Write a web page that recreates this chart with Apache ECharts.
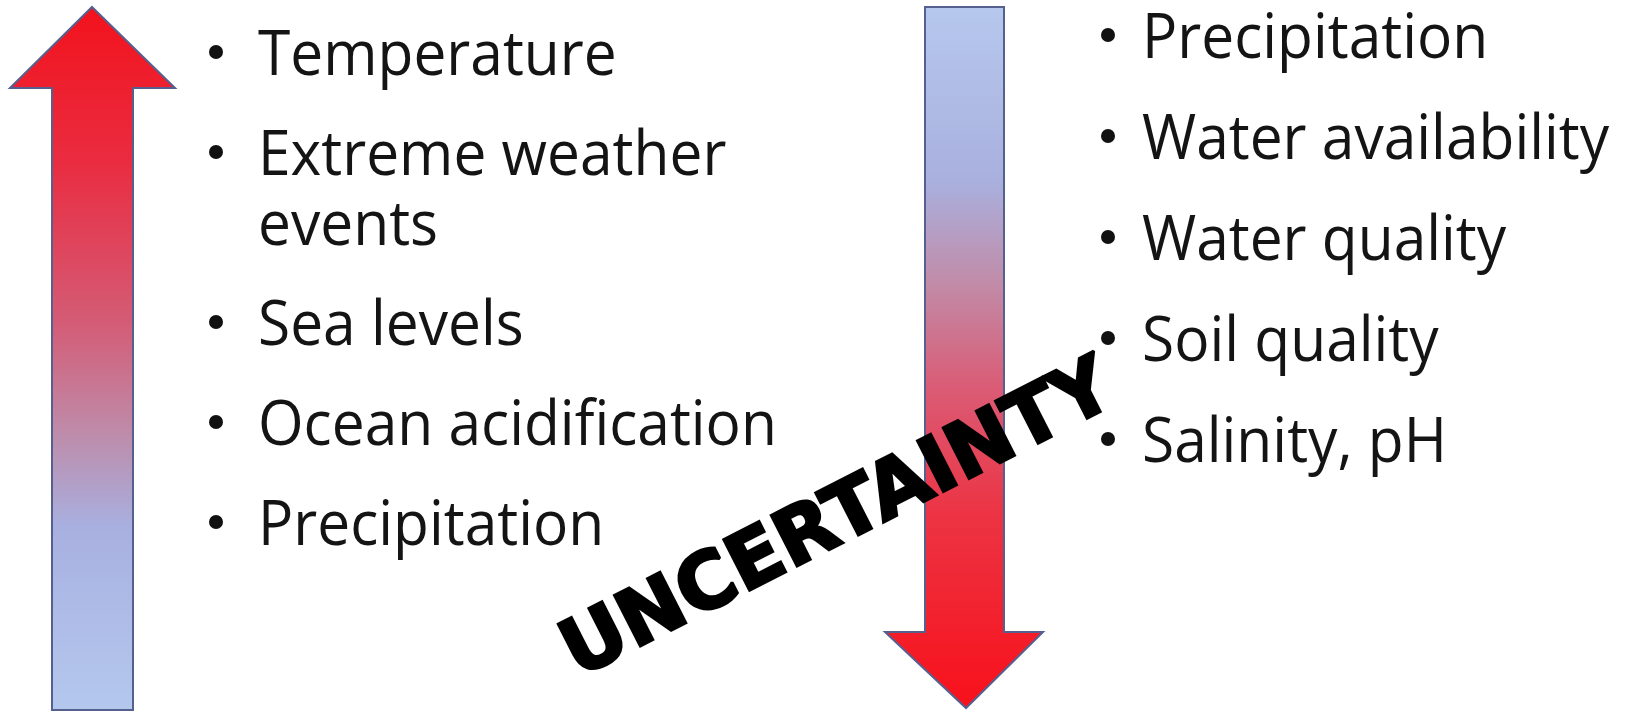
<!DOCTYPE html>
<html><head><meta charset="utf-8">
<script src="https://cdn.jsdelivr.net/npm/echarts@6/dist/echarts.min.js"></script>
<style>html,body{margin:0;padding:0;background:#fff}#c{width:1630px;height:712px}</style>
</head><body><div id="c"></div>
<script>
// ---- content ----
const leftItems = ['Temperature', 'Extreme weather\nevents', 'Sea levels', 'Ocean acidification', 'Precipitation'];
const rightItems = ['Precipitation', 'Water availability', 'Water quality', 'Soil quality', 'Salinity, pH'];
const stampText = 'UNCERTAINTY';

// ---- layout / style ----
const BODY_FONT = '"Open Sans"';
const STAMP_FONT = '"DejaVu Sans"';
const cv = document.createElement('canvas').getContext('2d');
function measure(font, text, baseline) {
  cv.font = font; cv.textBaseline = baseline || 'alphabetic';
  return cv.measureText(text);
}
// fit font size so that widths match the reference
const targets = [['Temperature', 347], ['Water availability', 478], ['Ocean acidification', 524]];
let ratio = 0;
targets.forEach(([t, w]) => { ratio += w / measure('100px ' + BODY_FONT, t).width; });
const bodySize = 100 * ratio / targets.length;
const bodyFont = bodySize + 'px ' + BODY_FONT;
const capH = measure(bodyFont, 'H').actualBoundingBoxAscent;
const capMid = measure(bodyFont, 'H', 'middle').actualBoundingBoxAscent;
const midOffset = capH - capMid; // baseline below 'middle' line
const scaleY = 44 / capH;

const elements = [];

function arrow(points, stops) {
  elements.push({
    type: 'polygon',
    shape: { points: points },
    style: {
      fill: { type: 'linear', x: 0, y: 0, x2: 0, y2: 1, colorStops: stops },
      stroke: '#56608f', lineWidth: 2, lineJoin: 'miter'
    }
  });
}
// left arrow (up)
arrow([[92, 7], [175, 88], [133, 88], [133, 710], [52, 710], [52, 88], [10, 88]], [
  { offset: 0, color: '#f2121c' },
  { offset: 0.22, color: '#ea2c40' },
  { offset: 0.45, color: '#d45c76' },
  { offset: 0.6, color: '#bf8aa8' },
  { offset: 0.74, color: '#a8b0e0' },
  { offset: 1, color: '#b4c8ee' }
]);
// right arrow (down)
arrow([[925, 7], [1004, 7], [1004, 632], [1043, 632], [966, 708], [885, 632], [925, 632]], [
  { offset: 0, color: '#b6c8ee' },
  { offset: 0.25, color: '#a9b0de' },
  { offset: 0.4, color: '#c28aa6' },
  { offset: 0.54, color: '#da5c76' },
  { offset: 0.72, color: '#ec3444' },
  { offset: 1, color: '#f8101a' }
]);

function list(items, bulletX, textX, startBase, paraStep, lineStep) {
  let base = startBase;
  items.forEach((item) => {
    const lines = item.split('\n');
    elements.push({ type: 'circle', shape: { cx: bulletX, cy: base - 23, r: 7 }, style: { fill: '#111' } });
    lines.forEach((ln, k) => {
      const b = base + k * lineStep;
      elements.push({
        type: 'text', x: textX, y: b - midOffset * scaleY, scaleY: scaleY,
        style: { text: ln, font: bodyFont, fill: '#141414', align: 'left', verticalAlign: 'middle' }
      });
    });
    base += (lines.length - 1) * lineStep + paraStep;
  });
}
list(leftItems, 216, 258, 75, 100, 70);
list(rightItems, 1108, 1142, 58, 101, 70);

// stamp text
elements.push({
  type: 'text', x: 839, y: 522, rotation: 27 * Math.PI / 180,
  style: { text: stampText, font: 'bold 78px ' + STAMP_FONT, fill: '#000', stroke: '#000', lineWidth: 3,
    align: 'center', verticalAlign: 'middle' }
});

const chart = echarts.init(document.getElementById('c'), null, { renderer: 'canvas' });
chart.setOption({ backgroundColor: '#ffffff', animation: false, graphic: { elements: elements } });
</script>
</body></html>
